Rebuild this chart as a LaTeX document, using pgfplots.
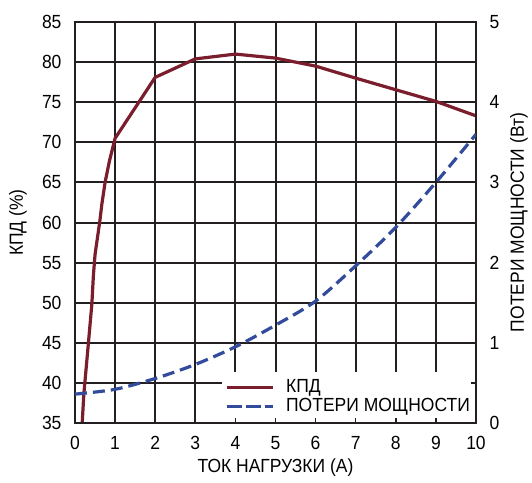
\documentclass[border=0pt]{standalone}
\usepackage{fontspec}
\setmainfont{Liberation Sans}[FakeStretch=0.92]
\usepackage{pgfplots}
\pgfplotsset{compat=1.18}
\definecolor{kred}{RGB}{122,30,45}
\definecolor{kblue}{RGB}{50,75,155}
\definecolor{gridc}{RGB}{35,31,32}
\begin{document}
\fontsize{19bp}{22bp}\selectfont
\begin{tikzpicture}
\path[use as bounding box] (-75bp,-60bp) rectangle (457bp,423bp);
\pgfplotsset{
  every axis/.append style={
    scale only axis, width=401bp, height=401bp,
    xmin=0, xmax=10,
    /pgf/number format/assume math mode=true,
    tick label style={font=\fontsize{19bp}{22bp}\selectfont},
    label style={font=\fontsize{19bp}{22bp}\selectfont},
    axis line style={line width=2bp, gridc},
    tick style={line width=1.5bp, gridc},
    major tick length=5bp, minor tick length=5bp,
    tick align=inside,
  }}
\begin{axis}[
  ymin=35, ymax=85, ytick={35,40,...,85}, xtick={0,...,10},
  ytick pos=left, xtick pos=bottom,
  grid=major, major grid style={line width=2bp, gridc},
  yticklabel style={xshift=-7bp},
  xticklabel style={yshift=-7bp},
  ylabel={КПД (\%)},
  ylabel style={at={([xshift=-57bp]axis description cs:0,0.5)}, anchor=center},
  xlabel={ТОК НАГРУЗКИ (А)},
  xlabel style={at={([yshift=-45bp]axis description cs:0.5,0)}, anchor=center},
  legend style={at={(axis description cs:1,0)}, anchor=south east, fill=white, draw=none,
    inner xsep=3bp, inner ysep=5bp, row sep=-3bp,
    nodes={inner sep=3bp},
    /tikz/every odd column/.append style={column sep=9bp},
    font=\fontsize{19bp}{22bp}\selectfont},
  legend cell align=left,
  legend image code/.code={\draw[#1] (0bp,0bp) -- (46bp,0bp);},
]
\addplot[kred, line width=3.2bp] coordinates {
(0.18,35) (0.22,38.6) (0.31,43.6) (0.42,49.8) (0.46,53.5) (0.5,56) (0.62,60.2) (0.67,62.3) (0.75,65) (0.86,67.7) (1,70.5)
(2,78.1) (3,80.4) (4,81.0) (5,80.5) (6,79.5) (7,78.0) (8,76.55) (9,75.1) (10,73.3)};
\addlegendentry{КПД}
\addlegendimage{kblue, line width=3.2bp, dash pattern=on 15bp off 4bp}
\addlegendentry{ПОТЕРИ МОЩНОСТИ}
\end{axis}
\begin{axis}[
  ymin=0, ymax=5, ytick={0,...,5}, minor ytick={0.5,1.5,...,4.5},
  xtick={0,...,10}, xticklabels={},
  ytick pos=right, yticklabel pos=right, xtick pos=bottom,
  yticklabel style={xshift=7bp},
  ylabel={ПОТЕРИ МОЩНОСТИ (Вт)},
  ylabel style={at={([xshift=43bp]axis description cs:1,0.5)}, anchor=center, rotate=0},
]
\addplot[kblue, line width=3.2bp, dash pattern=on 12bp off 6bp, smooth] coordinates {
(0,0.36) (1,0.42) (2,0.555) (3,0.73) (4,0.95) (5,1.22) (6,1.52) (7,1.96) (8,2.44) (9,3.0) (10,3.6)};
\end{axis}
\end{tikzpicture}
\end{document}
